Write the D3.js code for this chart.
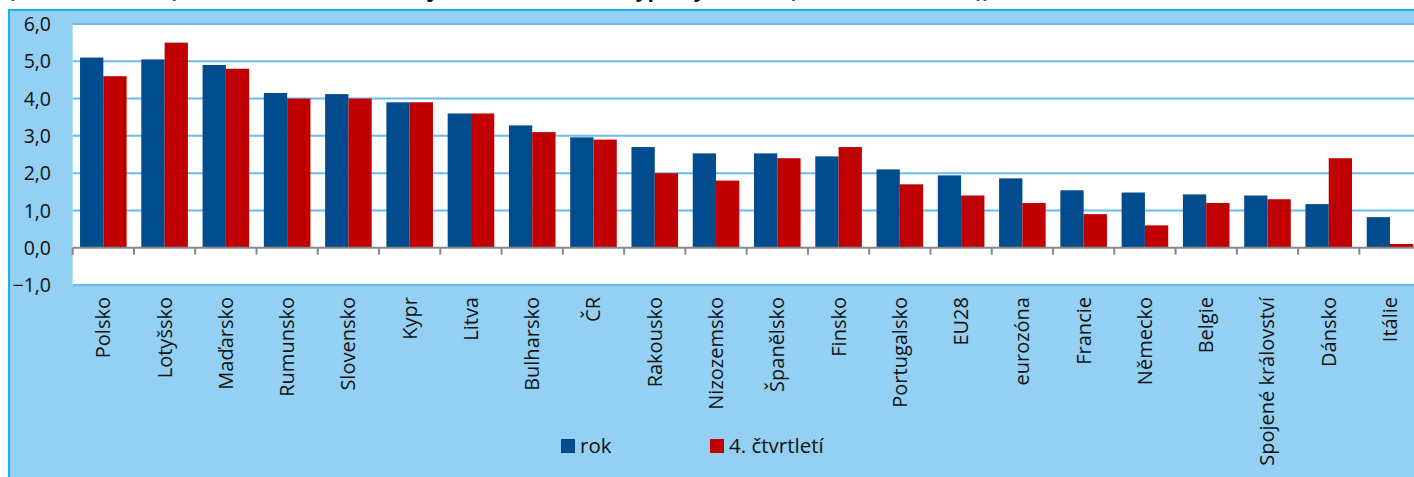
<!DOCTYPE html>
<html>
<head>
<meta charset="utf-8">
<script src="https://cdn.jsdelivr.net/npm/d3@7"></script>
<style>
  html, body { margin: 0; padding: 0; background: #ffffff; overflow: hidden; }
  svg { display: block; }
</style>
</head>
<body>
<svg id="chart" width="1414" height="477"></svg>
<script>
// ---- data ----
const categories = ["Polsko", "Lotyšsko", "Maďarsko", "Rumunsko", "Slovensko", "Kypr", "Litva", "Bulharsko", "ČR", "Rakousko", "Nizozemsko", "Španělsko", "Finsko", "Portugalsko", "EU28", "eurozóna", "Francie", "Německo", "Belgie", "Spojené království", "Dánsko", "Itálie"];
const rokValues = [5.1, 5.05, 4.9, 4.15, 4.12, 3.9, 3.6, 3.28, 2.96, 2.7, 2.53, 2.53, 2.45, 2.1, 1.94, 1.86, 1.54, 1.48, 1.43, 1.4, 1.17, 0.82];
const q4Values = [4.6, 5.5, 4.8, 4.0, 4.0, 3.9, 3.6, 3.1, 2.9, 2.0, 1.8, 2.4, 2.7, 1.7, 1.4, 1.2, 0.9, 0.6, 1.2, 1.3, 2.4, 0.1];
const seriesNames = ["rok", "4. čtvrtletí"];
const seriesColors = ["#004C8F", "#C00000"];
const yTicks = [-1, 0, 1, 2, 3, 4, 5, 6];
const titleText = "(meziročně, v %), sezónně očištěno, zdroj: Eurostat, vlastní výpočty autorů (data k 4. čtvrtletí))";

// ---- layout ----
const svg = d3.select("#chart");
const W = 1414, H = 477;
const plotLeft = 72.7, step = 61.27;
const plotRight = plotLeft + step * categories.length;
const plotTop = 24, plotBottom = 285;
const font = "'Open Sans', 'Liberation Sans', sans-serif";

// title (cut off at the top edge, as in the reference: only descenders show)
svg.append("text")
  .attr("x", 8).attr("y", 1)
  .attr("dominant-baseline", "alphabetic")
  .attr("transform", "translate(0,-4)")
  .attr("font-family", font).attr("font-weight", "bold").attr("font-size", 21)
  .attr("fill", "#111").text(titleText);

// outer chart area
svg.append("rect")
  .attr("x", 9).attr("y", 10).attr("width", W + 20).attr("height", H + 20)
  .attr("fill", "#93D0F3").attr("stroke", "#17B1E7").attr("stroke-width", 2);

const x = d3.scaleBand().domain(categories).range([plotLeft, plotRight]).padding(0);
const xs = d3.scaleBand().domain(seriesNames).range([0, x.bandwidth()]).paddingInner(0).paddingOuter(0.315);
const y = d3.scaleLinear().domain([-1, 6]).range([plotBottom, plotTop]);

// plot area
svg.append("rect")
  .attr("x", plotLeft).attr("y", plotTop).attr("width", plotRight - plotLeft).attr("height", plotBottom - plotTop)
  .attr("fill", "#ffffff");

// gridlines
svg.append("g").selectAll("line").data(yTicks.filter(d => d !== 0)).join("line")
  .attr("x1", plotLeft).attr("x2", plotRight)
  .attr("y1", d => y(d)).attr("y2", d => y(d))
  .attr("stroke", "#6BBBEC").attr("stroke-width", 2);

// y axis labels
const yAxis = d3.axisLeft(y).tickValues(yTicks).tickSize(0).tickPadding(0)
  .tickFormat(d => d3.format(".1f")(d).replace(".", ","));
const gy = svg.append("g").attr("transform", "translate(51,0)").call(yAxis);
gy.select(".domain").remove();
gy.selectAll("text").attr("font-family", font).attr("font-size", 19.5).attr("fill", "#111").attr("dy", "0.34em");

// bars
const rows = categories.map((c, i) => ({ c, vals: [rokValues[i], q4Values[i]] }));
const groups = svg.append("g").selectAll("g").data(rows).join("g")
  .attr("transform", d => `translate(${x(d.c)},0)`);
groups.selectAll("rect").data(d => d.vals.map((v, k) => ({ v, k }))).join("rect")
  .attr("x", d => xs(seriesNames[d.k]))
  .attr("width", xs.bandwidth())
  .attr("y", d => y(Math.max(0, d.v)))
  .attr("height", d => Math.abs(y(d.v) - y(0)))
  .attr("fill", d => seriesColors[d.k]);

// zero axis with category ticks
const xAxis = d3.axisBottom(x).tickSize(0).tickFormat("");
const gx = svg.append("g").attr("transform", `translate(0,${y(0)})`).call(xAxis);
gx.select(".domain").attr("stroke", "#888").attr("stroke-width", 2).attr("d", `M${plotLeft},0H${plotRight}`);
gx.selectAll(".tick").remove();
svg.append("g").selectAll("line").data(categories).join("line")
  .attr("x1", d => x(d)).attr("x2", d => x(d))
  .attr("y1", y(0)).attr("y2", y(0) + 7)
  .attr("stroke", "#888").attr("stroke-width", 2);

// category labels (rotated)
svg.append("g").selectAll("text").data(categories).join("text")
  .attr("transform", d => `translate(${x(d) + x.bandwidth() / 2},297) rotate(-90)`)
  .attr("text-anchor", "end").attr("dy", "0.35em")
  .attr("font-family", font).attr("font-size", 20).attr("fill", "#111")
  .text(d => d);

// legend
const legendX = [561, 710];
const lg = svg.append("g").selectAll("g").data(seriesNames).join("g")
  .attr("transform", (d, i) => `translate(${legendX[i]},439)`);
lg.append("rect").attr("width", 14).attr("height", 14).attr("fill", (d, i) => seriesColors[i]);
lg.append("text").attr("x", 19).attr("y", 7).attr("dy", "0.35em")
  .attr("font-family", font).attr("font-size", 20.5).attr("fill", "#111").text(d => d);
</script>
</body>
</html>
